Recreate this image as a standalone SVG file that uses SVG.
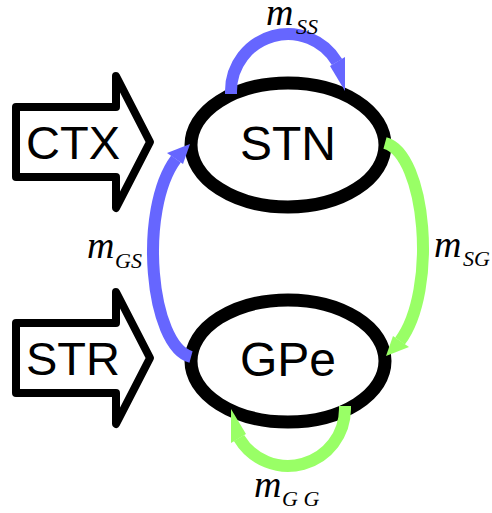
<svg xmlns="http://www.w3.org/2000/svg" width="492" height="513" viewBox="0 0 492 513">
  <style>
    .nucleus { fill: #ffffff; stroke: #000000; stroke-width: 13; }
    .input { fill: #ffffff; stroke: #000000; stroke-width: 8; stroke-linejoin: round; }
    .name { font-family: "Liberation Sans", Arial, sans-serif; font-size: 48px; fill: #000000; text-anchor: middle; }
    .inname { font-family: "Liberation Sans", Arial, sans-serif; font-size: 47px; fill: #000000; text-anchor: middle; }
    .gain { font-family: "Liberation Serif", "Times New Roman", serif; font-style: italic; font-size: 38px; fill: #000000; }
    .sub { font-family: "Liberation Serif", "Times New Roman", serif; font-style: italic; font-size: 22px; fill: #000000; }
    .blue { fill: none; stroke: #6666ff; stroke-width: 12; }
    .green { fill: none; stroke: #99ff66; stroke-width: 12; }
    .blue-head { fill: #6666ff; }
    .green-head { fill: #99ff66; }
  </style>

  <!-- external inputs -->
  <g id="ctx">
    <path class="input" d="M16 107 H116 V76 L150 142 L116 208 V177 H16 Z"/>
    <text class="inname" x="73" y="159">CTX</text>
  </g>
  <g id="str">
    <path class="input" d="M16 323 H116 V292 L150 358 L116 424 V393 H16 Z"/>
    <text class="inname" x="73" y="375">STR</text>
  </g>

  <!-- nuclei -->
  <g id="stn">
    <ellipse class="nucleus" cx="288" cy="145" rx="97" ry="62"/>
    <text class="name" x="288" y="160">STN</text>
  </g>
  <g id="gpe">
    <ellipse class="nucleus" cx="288" cy="361" rx="97" ry="61"/>
    <text class="name" x="288" y="376">GPe</text>
  </g>

  <!-- connections -->
  <g id="connectors">
    <!-- STN -> STN -->
    <path class="blue" d="M231 94 V91 A57 57 0 0 1 337 62"/>
    <polygon class="blue-head" points="330,66 345,57 345,91"/>
    <!-- GPe -> STN -->
    <path class="blue" d="M191 357 C150 346 138 210 176 159"/>
    <polygon class="blue-head" points="167,153 190,144 183,164"/>
    <!-- STN -> GPe and GPe -> GPe (point-symmetric to the blue pair) -->
    <g transform="rotate(180 288 250)">
      <path class="green" d="M231 94 V91 A57 57 0 0 1 337 62"/>
      <polygon class="green-head" points="330,66 345,57 345,91"/>
      <path class="green" d="M191 357 C150 346 138 210 176 159"/>
      <polygon class="green-head" points="167,153 190,144 183,164"/>
    </g>
  </g>

  <!-- gain labels -->
  <g id="labels">
    <text x="266" y="25"><tspan class="gain">m</tspan><tspan class="sub" x="296" y="34">SS</tspan></text>
    <text x="87" y="258"><tspan class="gain">m</tspan><tspan class="sub" x="115" y="268">GS</tspan></text>
    <text x="434" y="257"><tspan class="gain">m</tspan><tspan class="sub" x="463" y="266">SG</tspan></text>
    <text x="254" y="497"><tspan class="gain">m</tspan><tspan class="sub" x="282" y="506">G G</tspan></text>
  </g>
</svg>
